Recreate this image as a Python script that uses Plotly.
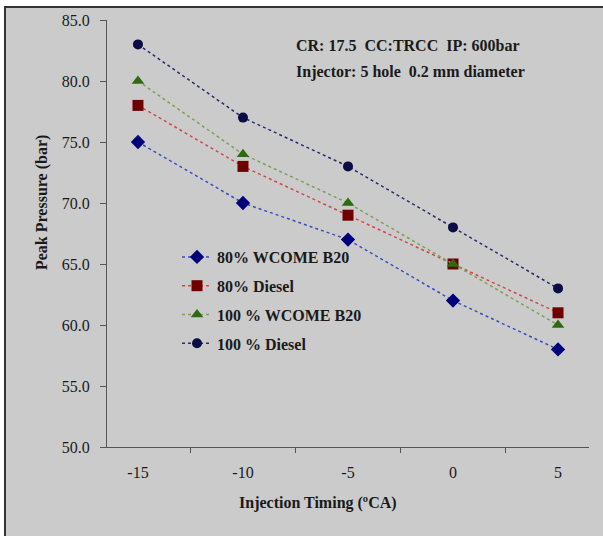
import plotly.graph_objects as go

timing = ["-15", "-10", "-5", "0", "5"]
wcome80 = [75, 70, 67, 62, 58]
diesel80 = [78, 73, 69, 65, 61]
wcome100 = [80, 74, 70, 65, 60]
diesel100 = [83, 77, 73, 68, 63]

W, H = 603, 536
L, R, T, B = 107, 14, 20, 89
PW, PH = W - L - R, H - T - B

def xp(px):
    return (px - L) / PW

def yp(py):
    return 1 - (py - T) / PH

SERIF = "Liberation Serif"
TXT = "#1a1a1a"

series = [
    ("80% WCOME B20", wcome80, "diamond", "#00007A", "#3A4FC0", 11),
    ("80% Diesel", diesel80, "square", "#6E0000", "#D04848", 11),
    ("100 % WCOME B20", wcome100, "triangle-up", "#2E6B10", "#7FA050", 11),
    ("100 % Diesel", diesel100, "circle", "#0B0B45", "#2A2A70", 10),
]

fig = go.Figure()
for name, vals, sym, mcol, lcol, size in series:
    fig.add_trace(go.Scatter(
        x=timing, y=vals, name=name, mode="lines+markers",
        line=dict(color=lcol, width=1.5, dash="dot"),
        marker=dict(symbol=sym, color=mcol, size=size),
        legendgroup=name,
    ))

fig.update_layout(
    width=W, height=H,
    margin=dict(l=L, r=R, t=T, b=B),
    paper_bgcolor="white",
    plot_bgcolor="rgba(0,0,0,0)",
    font=dict(family=SERIF, color=TXT),
    showlegend=True,
    legend=dict(
        x=xp(177), y=yp(240), xanchor="left", yanchor="top",
        bgcolor="rgba(0,0,0,0)",
        font=dict(family=SERIF, size=16, weight="bold", color=TXT),
        tracegroupgap=5,
    ),
    xaxis=dict(
        type="category", tickson="boundaries",
        showline=True, linecolor="#555", linewidth=1.2,
        ticks="outside", ticklen=5, tickcolor="#555",
        showgrid=False, zeroline=False,
        tickfont=dict(family=SERIF, size=16, color=TXT),
        ticklabelstandoff=11,
    ),
    yaxis=dict(
        range=[50, 85], dtick=5, tickformat=".1f",
        showline=True, linecolor="#555", linewidth=1.2,
        ticks="outside", ticklen=6, tickcolor="#555",
        showgrid=False, zeroline=False,
        tickfont=dict(family=SERIF, size=16, color=TXT),
        ticklabelstandoff=7,
    ),
    shapes=[
        dict(type="rect", xref="paper", yref="paper",
             x0=xp(5), x1=xp(700), y0=yp(700), y1=yp(7),
             fillcolor="#CBCBCB", line=dict(color="#333", width=2),
             layer="below"),
    ],
    annotations=[
        dict(text="CR: 17.5  CC:TRCC  IP: 600bar", xref="paper", yref="paper",
             x=xp(294), y=yp(46), xanchor="left", yanchor="middle",
             showarrow=False,
             font=dict(family=SERIF, size=16, weight="bold", color=TXT)),
        dict(text="Injector: 5 hole  0.2 mm diameter", xref="paper", yref="paper",
             x=xp(294), y=yp(72), xanchor="left", yanchor="middle",
             showarrow=False,
             font=dict(family=SERIF, size=16, weight="bold", color=TXT)),
        dict(text="Injection Timing (ºCA)", xref="paper", yref="paper",
             x=xp(318), y=yp(503), xanchor="center", yanchor="middle",
             showarrow=False,
             font=dict(family=SERIF, size=16, weight="bold", color=TXT)),
        dict(text="Peak Pressure (bar)", xref="paper", yref="paper",
             x=xp(42), y=yp(203), xanchor="center", yanchor="middle",
             textangle=-90, showarrow=False,
             font=dict(family=SERIF, size=16, weight="bold", color=TXT)),
    ],
)

fig.write_html("out.html",
               config={"displayModeBar": False},
               post_script="document.body.style.margin='0';document.body.style.overflow='hidden';")
